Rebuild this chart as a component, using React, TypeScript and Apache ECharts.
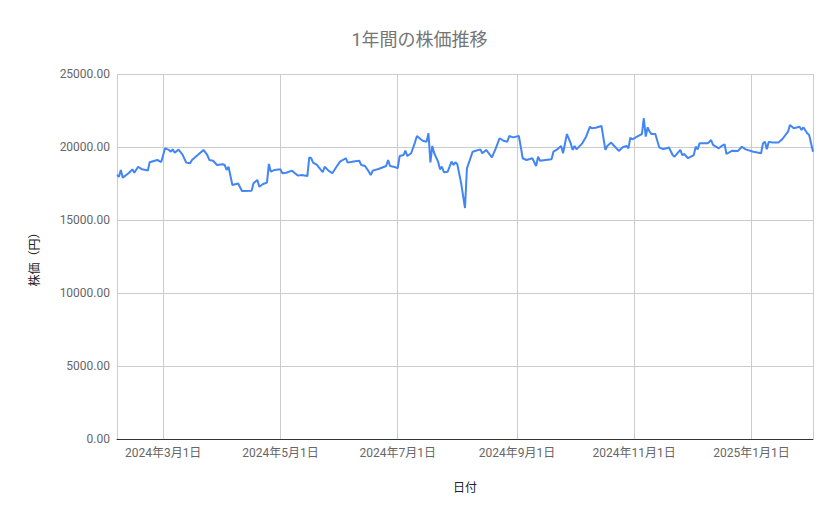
import React, { useEffect, useRef } from "react";
import * as echarts from "echarts";

// 日付と株価（円）
const dates = [
  "2024-02-06", "2024-02-07", "2024-02-08", "2024-02-09", "2024-02-12", "2024-02-14", "2024-02-15", "2024-02-17",
  "2024-02-19", "2024-02-21", "2024-02-22", "2024-02-23", "2024-02-27", "2024-02-29", "2024-03-02", "2024-03-04",
  "2024-03-05", "2024-03-06", "2024-03-07", "2024-03-09", "2024-03-11", "2024-03-13", "2024-03-15", "2024-03-16",
  "2024-03-19", "2024-03-22", "2024-03-24", "2024-03-25", "2024-03-27", "2024-03-29", "2024-04-01", "2024-04-02",
  "2024-04-03", "2024-04-04", "2024-04-06", "2024-04-09", "2024-04-11", "2024-04-16", "2024-04-17", "2024-04-19",
  "2024-04-20", "2024-04-22", "2024-04-24", "2024-04-25", "2024-04-26", "2024-04-28", "2024-05-01", "2024-05-02",
  "2024-05-04", "2024-05-07", "2024-05-10", "2024-05-12", "2024-05-15", "2024-05-16", "2024-05-17", "2024-05-18",
  "2024-05-20", "2024-05-21", "2024-05-23", "2024-05-24", "2024-05-26", "2024-05-28", "2024-05-30", "2024-06-01",
  "2024-06-04", "2024-06-05", "2024-06-08", "2024-06-11", "2024-06-12", "2024-06-14", "2024-06-16", "2024-06-17",
  "2024-06-18", "2024-06-21", "2024-06-24", "2024-06-25", "2024-06-26", "2024-06-27", "2024-06-30", "2024-07-01",
  "2024-07-02", "2024-07-04", "2024-07-05", "2024-07-06", "2024-07-08", "2024-07-10", "2024-07-11", "2024-07-13",
  "2024-07-14", "2024-07-16", "2024-07-17", "2024-07-18", "2024-07-19", "2024-07-20", "2024-07-22", "2024-07-23",
  "2024-07-24", "2024-07-25", "2024-07-27", "2024-07-29", "2024-07-30", "2024-07-31", "2024-08-01", "2024-08-03",
  "2024-08-05", "2024-08-06", "2024-08-08", "2024-08-09", "2024-08-13", "2024-08-14", "2024-08-16", "2024-08-19",
  "2024-08-21", "2024-08-23", "2024-08-25", "2024-08-27", "2024-08-28", "2024-08-30", "2024-09-02", "2024-09-03",
  "2024-09-04", "2024-09-06", "2024-09-09", "2024-09-11", "2024-09-12", "2024-09-13", "2024-09-16", "2024-09-19",
  "2024-09-20", "2024-09-22", "2024-09-24", "2024-09-25", "2024-09-27", "2024-09-29", "2024-09-30", "2024-10-01",
  "2024-10-02", "2024-10-05", "2024-10-07", "2024-10-09", "2024-10-10", "2024-10-12", "2024-10-15", "2024-10-17",
  "2024-10-18", "2024-10-20", "2024-10-22", "2024-10-24", "2024-10-26", "2024-10-28", "2024-10-29", "2024-10-30",
  "2024-10-31", "2024-11-03", "2024-11-05", "2024-11-06", "2024-11-07", "2024-11-08", "2024-11-09", "2024-11-10",
  "2024-11-12", "2024-11-14", "2024-11-16", "2024-11-18", "2024-11-19", "2024-11-21", "2024-11-22", "2024-11-25",
  "2024-11-26", "2024-11-27", "2024-11-29", "2024-12-02", "2024-12-03", "2024-12-04", "2024-12-05", "2024-12-09",
  "2024-12-10", "2024-12-11", "2024-12-12", "2024-12-15", "2024-12-16", "2024-12-18", "2024-12-19", "2024-12-22",
  "2024-12-25", "2024-12-27", "2024-12-29", "2025-01-02", "2025-01-06", "2025-01-07", "2025-01-08", "2025-01-09",
  "2025-01-10", "2025-01-12", "2025-01-15", "2025-01-17", "2025-01-20", "2025-01-21", "2025-01-23", "2025-01-25",
  "2025-01-26", "2025-01-27", "2025-01-28", "2025-01-30", "2025-01-31", "2025-02-02",
];

const prices = [
  18080, 17970, 18430, 17900, 18200, 18470, 18240, 18650,
  18470, 18430, 18380, 18950, 19110, 18970, 19910, 19800,
  19680, 19840, 19610, 19820, 19500, 18930, 18880, 19110,
  19450, 19800, 19450, 19110, 19060, 18770, 18820, 18770,
  18430, 18650, 17400, 17500, 16990, 17010, 17510, 17740,
  17280, 17470, 17560, 18840, 18310, 18430, 18470, 18200,
  18240, 18380, 18040, 18080, 18010, 19290, 19230, 18930,
  18770, 18610, 18270, 18650, 18380, 18200, 18610, 19000,
  19230, 18930, 19000, 19060, 18770, 18700, 18310, 18080,
  18380, 18490, 18650, 18700, 19110, 18700, 18610, 18540,
  19380, 19450, 19750, 19380, 19570, 20320, 20750, 20530,
  20430, 20360, 20940, 18950, 20070, 19570, 19000, 18470,
  18650, 18270, 18310, 19000, 18770, 18950, 18820, 17510,
  15820, 18540, 19300, 19680, 19840, 19570, 19800, 19290,
  19910, 20600, 20430, 20360, 20750, 20660, 20750, 20020,
  19230, 19110, 19230, 18700, 19340, 19060, 19110, 19160,
  19680, 19840, 20070, 19570, 20890, 20250, 19800, 20070,
  19840, 20250, 20710, 21390, 21280, 21320, 21440, 19800,
  20070, 20300, 20020, 19730, 19980, 20070, 19910, 20640,
  20530, 20750, 20890, 21970, 20710, 21350, 21050, 20890,
  20890, 19980, 19860, 19910, 19980, 19450, 19340, 19800,
  19450, 19520, 19230, 19450, 20020, 19840, 20250, 20250,
  20330, 20480, 20140, 19910, 20020, 20190, 19520, 19750,
  19730, 20020, 19840, 19680, 19570, 20250, 20360, 19840,
  20360, 20300, 20300, 20530, 21050, 21510, 21280, 21350,
  21390, 21170, 21350, 20940, 20820, 19680,
];

const yTicks = { min: 0, max: 25000, interval: 5000 };

const FONT = "Roboto, 'Noto Sans CJK JP', sans-serif";

const App = () => {
  const chartRef = useRef<HTMLDivElement>(null);

  useEffect(() => {
    const chart = echarts.init(chartRef.current, null, { renderer: "svg" });

    const points = dates.map((d, i) => [d, prices[i]]);

    chart.setOption({
      animation: false,
      backgroundColor: "#fff",
      textStyle: { fontFamily: FONT },
      title: {
        text: "1年間の株価推移",
        left: "center",
        top: 25,
        textStyle: { fontSize: 18, fontWeight: "normal", color: "#757575", fontFamily: FONT },
      },
      grid: { left: 117, right: 26, top: 74, bottom: 80 },
      xAxis: {
        type: "time",
        min: dates[0],
        max: dates[dates.length - 1],
        splitNumber: 5,
        name: "日付",
        nameLocation: "middle",
        nameGap: 43,
        nameTextStyle: { color: "#222", fontSize: 12, fontFamily: FONT },
        axisLine: { show: true, lineStyle: { color: "#333", width: 1 } },
        axisTick: { show: false },
        axisLabel: {
          color: "#666",
          fontSize: 12,
          margin: 8,
          fontFamily: FONT,
          formatter: (v: number) => {
            const dt = new Date(v);
            return `${dt.getFullYear()}年${dt.getMonth() + 1}月${dt.getDate()}日`;
          },
        },
        splitLine: { show: true, lineStyle: { color: "#ccc", width: 1 } },
      },
      yAxis: {
        type: "value",
        min: yTicks.min,
        max: yTicks.max,
        interval: yTicks.interval,
        name: "株価（円）",
        nameLocation: "middle",
        nameGap: 76,
        nameRotate: 90,
        nameTextStyle: { color: "#222", fontSize: 12, fontFamily: FONT },
        axisLine: { show: false },
        axisTick: { show: false },
        axisLabel: {
          color: "#666",
          fontSize: 12,
          margin: 7,
          fontFamily: FONT,
          formatter: (v: number) => v.toFixed(2),
        },
        splitLine: { lineStyle: { color: "#ccc", width: 1 } },
      },
      series: [
        {
          type: "line",
          data: points,
          showSymbol: false,
          symbol: "none",
          lineStyle: { color: "#4285F4", width: 2 },
          itemStyle: { color: "#4285F4" },
        },
      ],
    });

    return () => chart.dispose();
  }, []);

  return (
    <div
      ref={chartRef}
      style={{ position: "fixed", left: 0, top: 0, width: "839px", height: "519px" }}
    />
  );
};

export default App;
